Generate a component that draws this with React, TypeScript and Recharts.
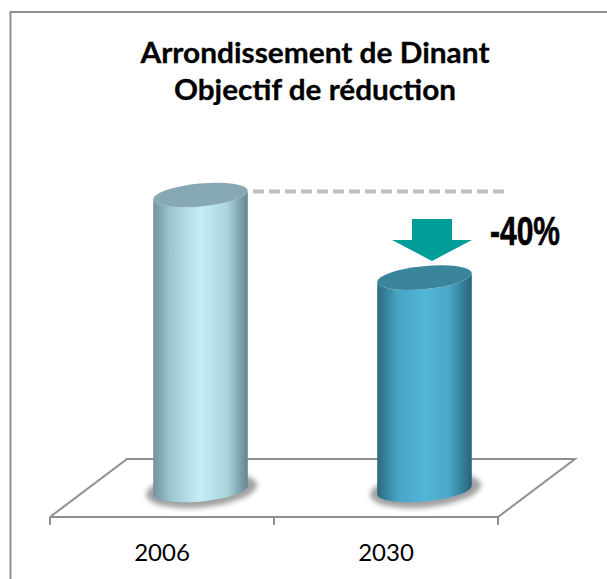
import React from 'react';
import { BarChart, Bar, XAxis, YAxis } from 'recharts';

const years = ['2006', '2030'];
const levels = [100, 72];
const titleLines = ['Arrondissement de Dinant', 'Objectif de réduction'];
const titleWidths = [349, 282];
const reductionLabel = '-40%';

const data = years.map((year, i) => ({ year, level: levels[i] }));

const W = 607;
const H = 579;
const PLOT = { left: 50, right: 498, top: 222, bottom: 517 };
// the 3D look: bars sit further back on the floor than the axis
const DEPTH_X = 38;
const DEPTH_Y = -27;
const FLOOR_BACK_X = 77;
const FLOOR_BACK_Y = -58;
const AXIS_GREY = '#8f8f8f';

const TILT = -5.5;
const RX = 47.5;
const RY = 11.5;

const Cylinder = (props: any) => {
  const { x, y, width, height, index } = props;
  const cx = x + width / 2 + DEPTH_X;
  const top = y + DEPTH_Y;
  const bottom = y + height + DEPTH_Y;
  const rad = (TILT * Math.PI) / 180;
  const dx = RX * Math.cos(rad);
  const dy = RX * Math.sin(rad);
  const arc = `A ${RX} ${RY} ${TILT} 0`;
  const side = `M ${cx - dx} ${top - dy} L ${cx - dx} ${bottom - dy} ${arc} 0 ${cx + dx} ${bottom + dy} L ${cx + dx} ${top + dy} ${arc} 1 ${cx - dx} ${top - dy} Z`;
  return (
    <g>
      <ellipse
        cx={cx + 1}
        cy={bottom}
        rx={RX + 8}
        ry={RY + 6}
        fill="#6e6e6e"
        opacity={0.65}
        filter="url(#floorShadow)"
        transform={`rotate(${TILT} ${cx} ${bottom})`}
      />
      <path d={side} fill={`url(#side${index})`} />
      <ellipse
        cx={cx}
        cy={top}
        rx={RX}
        ry={RY}
        fill={index === 0 ? '#87a9b3' : '#3a859c'}
        transform={`rotate(${TILT} ${cx} ${top})`}
      />
    </g>
  );
};

const Floor = () => {
  const { left, right, bottom } = PLOT;
  const mid = (left + right) / 2;
  return (
    <g>
      <path
        d={`M ${left} ${bottom} L ${left + FLOOR_BACK_X} ${bottom + FLOOR_BACK_Y} L ${right + FLOOR_BACK_X} ${bottom + FLOOR_BACK_Y} L ${right} ${bottom}`}
        fill="none"
        stroke={AXIS_GREY}
        strokeWidth={2}
      />
      {[left, mid, right].map((t) => (
        <line key={t} x1={t} x2={t} y1={bottom} y2={bottom + 8} stroke={AXIS_GREY} strokeWidth={2} />
      ))}
    </g>
  );
};

const Decorations = () => (
  <g>
    <path d="M 10.5 579 L 10.5 12 L 607 12" fill="none" stroke={AXIS_GREY} strokeWidth={2} />
    {titleLines.map((line, i) => (
      <text
        key={line}
        x={315}
        y={63 + i * 37}
        textAnchor="middle"
        fontFamily="Lato, 'Open Sans', sans-serif"
        fontWeight={700}
        fontSize={29}
        textLength={titleWidths[i]}
        lengthAdjust="spacingAndGlyphs"
        fill="#000"
        stroke="#000"
        strokeWidth={0.3}
      >
        {line}
      </text>
    ))}
    <line x1={253} x2={506} y1={191.5} y2={191.5} stroke="#bfbfbf" strokeWidth={4} strokeDasharray="11 5" />
    <path d="M 412 219 H 452 V 240 H 472 L 432 261 L 392 240 H 412 Z" fill="#009e98" />
    <text
      x={490}
      y={245}
      fontFamily="'Liberation Sans', Arial, sans-serif"
      fontWeight={700}
      fontSize={40}
      textLength={70}
      lengthAdjust="spacingAndGlyphs"
      fill="#000"
      stroke="#000"
      strokeWidth={0.6}
    >
      {reductionLabel}
    </text>
  </g>
);

export default function App() {
  return (
    <div style={{ position: 'absolute', left: 0, top: 0, width: W, height: H, background: '#fff', overflow: 'hidden' }}>
      <BarChart
        width={W}
        height={H}
        data={data}
        margin={{ top: PLOT.top, right: W - PLOT.right, bottom: 0, left: PLOT.left }}
      >
        <defs>
          <linearGradient id="side0" x1="0" y1="0" x2="1" y2="0">
            <stop offset="0%" stopColor="#6d939c" />
            <stop offset="18%" stopColor="#9cc5ce" />
            <stop offset="50%" stopColor="#c5eef6" />
            <stop offset="78%" stopColor="#aad5de" />
            <stop offset="100%" stopColor="#64848c" />
          </linearGradient>
          <linearGradient id="side1" x1="0" y1="0" x2="1" y2="0">
            <stop offset="0%" stopColor="#2a6a80" />
            <stop offset="22%" stopColor="#48a5c4" />
            <stop offset="50%" stopColor="#53b6d7" />
            <stop offset="75%" stopColor="#4ba9c9" />
            <stop offset="100%" stopColor="#28647a" />
          </linearGradient>
          <filter id="floorShadow" x="-30%" y="-60%" width="160%" height="220%">
            <feGaussianBlur stdDeviation="2.5" />
          </filter>
        </defs>
        <Floor />
        <XAxis
          dataKey="year"
          height={H - PLOT.bottom}
          axisLine={{ stroke: AXIS_GREY, strokeWidth: 2 }}
          tickLine={false}
          tickMargin={21}
          tick={{ fontSize: 24, fill: '#000', fontFamily: 'Lato, sans-serif' }}
        />
        <YAxis hide domain={[0, 100]} />
        <Bar dataKey="level" barSize={95} shape={Cylinder} isAnimationActive={false} />
        <Decorations />
      </BarChart>
    </div>
  );
}
